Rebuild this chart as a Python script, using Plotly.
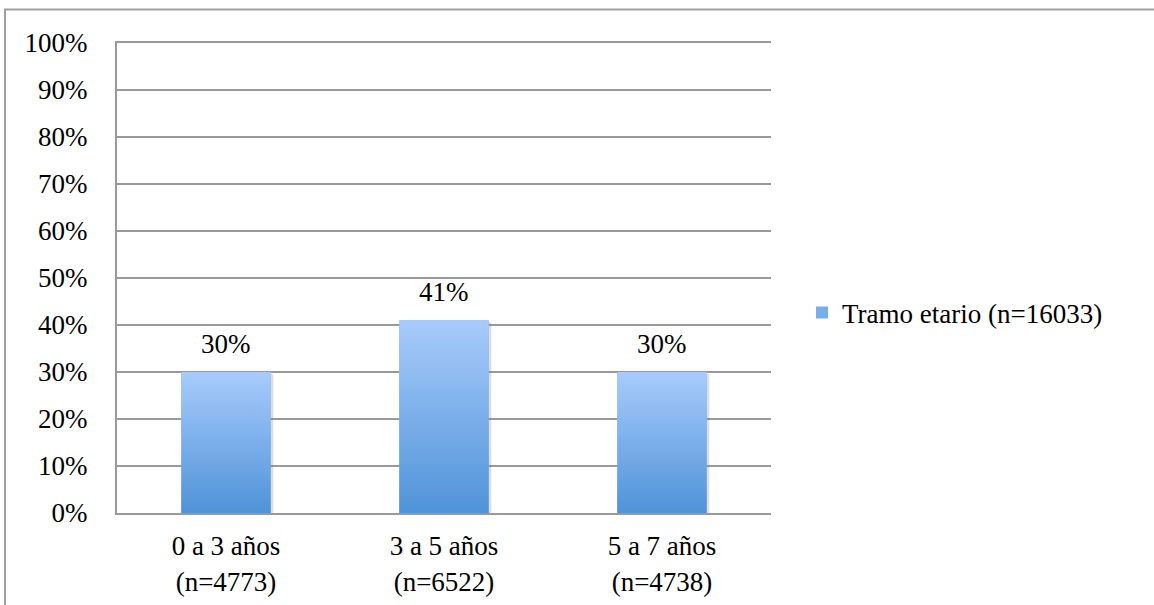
import plotly.graph_objects as go

# Age groups and share of children per group (%)
categories = ["0 a 3 años<br>(n=4773)", "3 a 5 años<br>(n=6522)", "5 a 7 años<br>(n=4738)"]
values = [30, 41, 30]
series_name = "Tramo etario (n=16033)"
y_ticks = [0, 10, 20, 30, 40, 50, 60, 70, 80, 90, 100]
y_ticktext = [f"{t}%" for t in y_ticks]

FONT = "Liberation Serif"
FS = 27
TOP_BLUE = "#a8cbfc"
BOT_BLUE = "#4f93d8"
BAR_W = 0.41

x_pos = list(range(len(categories)))

fig = go.Figure()

# Base bars (carry the legend entry)
fig.add_trace(go.Bar(
    x=x_pos, y=values, width=BAR_W, name=series_name,
    marker=dict(color="#7aaeea", line=dict(width=0)),
    showlegend=True, hoverinfo="skip",
))

# Soft drop shadow to the right of each bar
for xi, v in zip(x_pos, values):
    h = BAR_W / 2
    fig.add_trace(go.Scatter(
        x=[xi + h, xi + h + 0.012, xi + h + 0.012, xi + h],
        y=[v - 0.3, v - 0.6, -0.4, -0.4],
        fill="toself", mode="lines", line=dict(width=0),
        fillcolor="rgba(120,120,120,0.25)", showlegend=False, hoverinfo="skip",
    ))

# Vertical gradient fill for every bar, light at the top and darker at the base
for xi, v in zip(x_pos, values):
    h = BAR_W / 2
    fig.add_trace(go.Scatter(
        x=[xi - h, xi - h, xi + h, xi + h, xi - h],
        y=[0, v, v, 0, 0],
        fill="toself", mode="lines", line=dict(width=0),
        fillgradient=dict(type="vertical",
                          colorscale=[[0, BOT_BLUE], [1, TOP_BLUE]]),
        showlegend=False, hoverinfo="skip",
    ))

# Value labels above the bars
for xi, v in zip(x_pos, values):
    fig.add_annotation(
        x=xi, y=v, text=f"{v}%", showarrow=False,
        yanchor="bottom", yshift=11,
        font=dict(family=FONT, size=FS, color="#000000"),
    )

L, R, T, B = 117, 771, 43, 513
W, H = 1154, 605

# Outer chart border
fig.add_shape(
    type="rect", xref="paper", yref="paper",
    x0=(5 - L) / (R - L), x1=(W + 10 - L) / (R - L),
    y0=(B - (H + 10)) / (B - T), y1=(B - 9.5) / (B - T),
    line=dict(color="#a0a0a0", width=2), fillcolor="rgba(0,0,0,0)",
    layer="below",
)

fig.update_layout(
    width=W, height=H,
    margin=dict(l=L, r=W - R, t=T, b=H - B, pad=0, autoexpand=False),
    paper_bgcolor="white", plot_bgcolor="white",
    font=dict(family=FONT, size=FS, color="#000000"),
    showlegend=True,
    legend=dict(
        x=(802 - L) / (R - L), y=(B - 313) / (B - T),
        xanchor="left", yanchor="middle",
        font=dict(family=FONT, size=FS, color="#000000"),
        bgcolor="rgba(0,0,0,0)",
    ),
    xaxis=dict(
        range=[-0.5, 2.5], tickmode="array", tickvals=x_pos, ticktext=categories,
        showgrid=False, zeroline=False, showline=True, mirror=True,
        linecolor="#9a9a9a", linewidth=2, ticks="",
        ticklabelstandoff=8, automargin=False, fixedrange=True,
    ),
    yaxis=dict(
        range=[0, 100], tickmode="array", tickvals=y_ticks, ticktext=y_ticktext,
        showgrid=True, gridcolor="#999999", gridwidth=1.5,
        zeroline=False, showline=True, linecolor="#9a9a9a", linewidth=2,
        ticks="", ticklabelstandoff=22, automargin=False, fixedrange=True,
    ),
)

fig.write_html("out.html")
